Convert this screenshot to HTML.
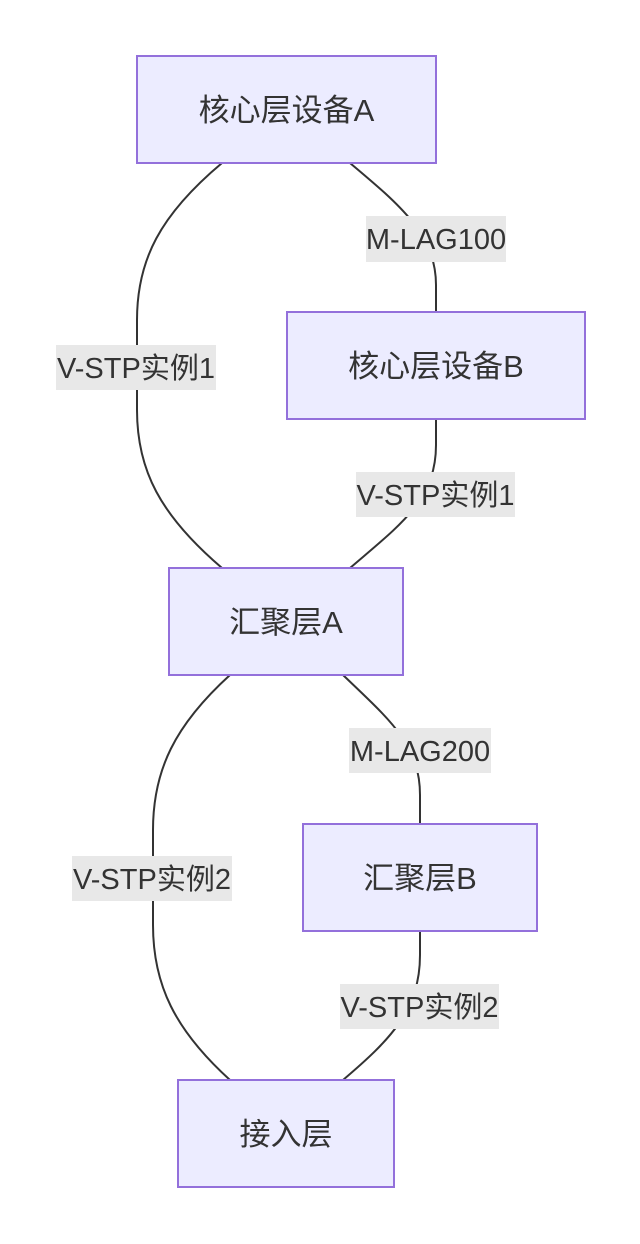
<!DOCTYPE html>
<html><head><meta charset="utf-8"><style>
html,body{margin:0;padding:0;background:#fff;}
svg{display:block;}
text{font-family:"Liberation Sans","Noto Sans CJK SC",sans-serif;font-size:31px;fill:#333;}
text.t{font-size:29px;}
.n{fill:#ECECFF;stroke:#9370DB;stroke-width:2;}
.e{fill:none;stroke:#333;stroke-width:2;}
.l{fill:#e8e8e8;}
</style></head><body>
<svg width="640" height="1244" viewBox="0 0 640 1244" xmlns="http://www.w3.org/2000/svg">
<path class="e" d="M222,163 C160,215 137,260 137,320 L137,410 C137,470 160,515 222,568"/>
<path class="e" d="M350,163 C400,205 436,235 436,285 L436,312"/>
<path class="e" d="M436,419 L436,445 C436,500 400,525 350,568"/>
<path class="e" d="M230,675 C175,725 153,770 153,830 L153,925 C153,985 175,1030 230,1080"/>
<path class="e" d="M343,675 C390,720 420,745 420,795 L420,824"/>
<path class="e" d="M420,931 L420,955 C420,1010 390,1040 343,1080"/>

<rect class="n" x="137" y="56" width="299" height="107"/>
<text x="286.5" y="121" text-anchor="middle">核心层设备A</text>
<rect class="n" x="287" y="312" width="298" height="107"/>
<text x="436" y="377" text-anchor="middle">核心层设备B</text>
<rect class="n" x="169" y="568" width="234" height="107"/>
<text x="286" y="633" text-anchor="middle">汇聚层A</text>
<rect class="n" x="303" y="824" width="234" height="107"/>
<text x="420" y="889" text-anchor="middle">汇聚层B</text>
<rect class="n" x="178" y="1080" width="216" height="107"/>
<text x="286" y="1145" text-anchor="middle">接入层</text>

<rect class="l" x="56" y="345" width="160" height="45"/>
<text class="t" x="136" y="378" text-anchor="middle">V-STP实例1</text>
<rect class="l" x="366" y="216" width="140" height="46"/>
<text class="t" x="436" y="249" text-anchor="middle">M-LAG100</text>
<rect class="l" x="356" y="472" width="159" height="45"/>
<text class="t" x="435.5" y="505" text-anchor="middle">V-STP实例1</text>
<rect class="l" x="72" y="856" width="160" height="45"/>
<text class="t" x="152" y="889" text-anchor="middle">V-STP实例2</text>
<rect class="l" x="349" y="728" width="142" height="45"/>
<text class="t" x="420" y="761" text-anchor="middle">M-LAG200</text>
<rect class="l" x="340" y="984" width="159" height="45"/>
<text class="t" x="419.5" y="1017" text-anchor="middle">V-STP实例2</text>
</svg>
</body></html>
